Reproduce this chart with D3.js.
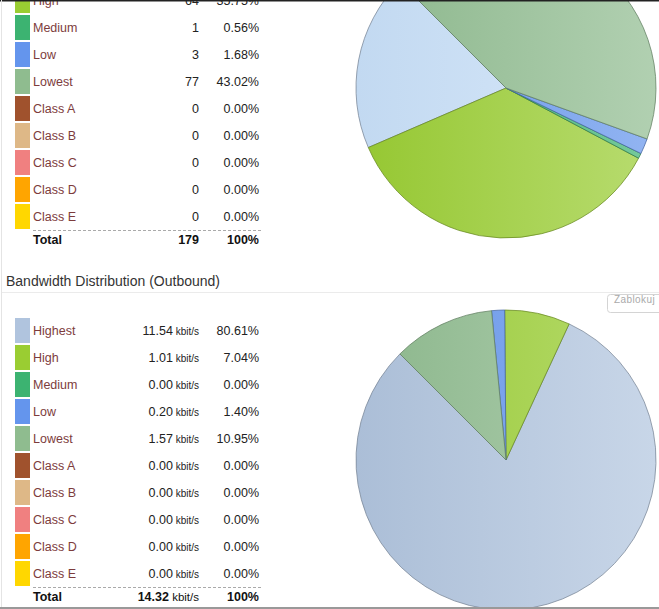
<!DOCTYPE html>
<html><head><meta charset="utf-8">
<script src="https://cdn.jsdelivr.net/npm/d3@7"></script>
<style>
html,body{margin:0;padding:0;background:#fff;overflow:hidden;}
svg{display:block;font-family:"Liberation Sans",Arial,sans-serif;}
</style></head>
<body>
<script>
const categories = ["Highest","High","Medium","Low","Lowest","Class A","Class B","Class C","Class D","Class E"];
const colors = ["#b0c4de","#9acd32","#3cb371","#6495ed","#8fbc8f","#a0522d","#deb887","#f08080","#ffa500","#ffd700"];
// Top chart (packet counts)
const topCounts = [34,64,1,3,77,0,0,0,0,0];
const topPercents = ["18.99%","35.75%","0.56%","1.68%","43.02%","0.00%","0.00%","0.00%","0.00%","0.00%"];
const topTotal = "179";
// Bottom chart (Bandwidth Distribution (Outbound))
const outTitle = "Bandwidth Distribution (Outbound)";
const outValues = [11.54,1.01,0.00,0.20,1.57,0.00,0.00,0.00,0.00,0.00];
const outPercents = ["80.61%","7.04%","0.00%","1.40%","10.95%","0.00%","0.00%","0.00%","0.00%","0.00%"];
const outTotal = "14.32";
const unit = "kbit/s";

const W = 659, H = 609;
const svg = d3.select("body").append("svg").attr("width", W).attr("height", H);
const defs = svg.append("defs");

function table(g, yStart, valuesText, percents, totalText, withUnit) {
  const y = d3.scaleBand().domain(categories).range([yStart, yStart + 27*categories.length]).paddingInner(0.075).paddingOuter(0.0375);
  const rows = g.selectAll("g.row").data(categories).join("g").attr("class","row");
  rows.append("rect").attr("x",15).attr("width",15)
    .attr("y", d => y(d)).attr("height", y.bandwidth())
    .attr("fill", (d,i) => colors[i]);
  const cy = d => y(d) + y.bandwidth()/2 + 4.5;
  rows.append("text").attr("x",33).attr("y",cy).attr("font-size",12.5).attr("fill","#7d3c3c").text(d=>d);
  const vt = rows.append("text").attr("x",199).attr("y",cy).attr("text-anchor","end").attr("font-size",12.5).attr("fill","#222");
  vt.append("tspan").text((d,i)=>valuesText[i]);
  if (withUnit) vt.append("tspan").attr("font-size",10).text(" " + unit);
  rows.append("text").attr("x",259).attr("y",cy).attr("text-anchor","end").attr("font-size",12.5).attr("fill","#222").text((d,i)=>percents[i]);
  const yEnd = yStart + 27*categories.length;
  g.append("line").attr("x1",33).attr("x2",262).attr("y1",yEnd+0.5).attr("y2",yEnd+0.5)
    .attr("stroke","#aaa").attr("stroke-dasharray","3,2");
  const ty = yEnd + 14;
  g.append("text").attr("x",33).attr("y",ty).attr("font-size",12.5).attr("font-weight","bold").attr("fill","#111").text("Total");
  const tt = g.append("text").attr("x",199).attr("y",ty).attr("text-anchor","end").attr("font-size",12.5).attr("fill","#111");
  tt.append("tspan").attr("font-weight","bold").text(totalText);
  if (withUnit) tt.append("tspan").attr("font-size",11.5).text(" " + unit);
  g.append("text").attr("x",259).attr("y",ty).attr("text-anchor","end").attr("font-size",12.5).attr("font-weight","bold").attr("fill","#111").text("100%");
}

function pie(g, id, cx, cy, values, highlight) {
  const r = 150;
  const p = d3.pie().sort(null).value(d=>d)
    .startAngle(-Math.PI/4).endAngle(-Math.PI/4 - 2*Math.PI);
  const arcs = p(values);
  const arc = d3.arc().innerRadius(0).outerRadius(r);
  colors.forEach((c,i) => {
    let base = c;
    if (highlight === i) base = "#c8e0f8";
    const gr = defs.append("linearGradient").attr("id", id+"g"+i)
      .attr("gradientUnits","userSpaceOnUse").attr("x1",-r).attr("x2",r).attr("y1",0).attr("y2",0);
    gr.append("stop").attr("offset","0%").attr("stop-color", d3.interpolateRgb(base,"#000")(0.03));
    gr.append("stop").attr("offset","100%").attr("stop-color", d3.interpolateRgb(base,"#fff")(0.3));
  });
  g.attr("transform",`translate(${cx},${cy})`);
  g.selectAll("path").data(arcs.filter(a=>a.value>0)).join("path")
    .attr("d", arc)
    .attr("fill", d => `url(#${id}g${d.index})`)
    .attr("stroke", d => d3.color(colors[d.index]).darker(1.1))
    .attr("stroke-opacity",0.75)
    .attr("stroke-width",1)
    .attr("stroke-linejoin","round");
}

// Top section (scrolled, partially visible)
pie(svg.append("g"), "t", 506, 88, topCounts, 0);
table(svg.append("g"), -40, topCounts.map(String), topPercents, topTotal, false);

// Bottom section
svg.append("text").attr("x",6).attr("y",285.5).attr("font-size",14).attr("fill","#333").text(outTitle);
svg.append("line").attr("x1",2).attr("x2",W).attr("y1",292.5).attr("y2",292.5).attr("stroke","#ebebeb");
const zb = svg.append("g");
zb.append("rect").attr("x",607.5).attr("y",294.5).attr("width",60).attr("height",18).attr("rx",3)
  .attr("fill","#fff").attr("stroke","#d4d4d4");
zb.append("text").attr("x",614).attr("y",303).attr("font-size",10).attr("fill","#aaa").attr("letter-spacing",0.4).text("Zablokuj");

pie(svg.append("g"), "b", 506, 460, outValues, -1);
table(svg.append("g"), 317, outValues.map(v=>v.toFixed(2)), outPercents, outTotal, true);

// frame lines
svg.append("line").attr("x1",0).attr("x2",W).attr("y1",0.5).attr("y2",0.5).attr("stroke","#222").attr("stroke-width",2);
svg.append("line").attr("x1",1.5).attr("x2",1.5).attr("y1",0).attr("y2",H).attr("stroke","#e4e4e4");
svg.append("line").attr("x1",0).attr("x2",W).attr("y1",H-1).attr("y2",H-1).attr("stroke","#999").attr("stroke-width",2);
</script>
</body></html>
